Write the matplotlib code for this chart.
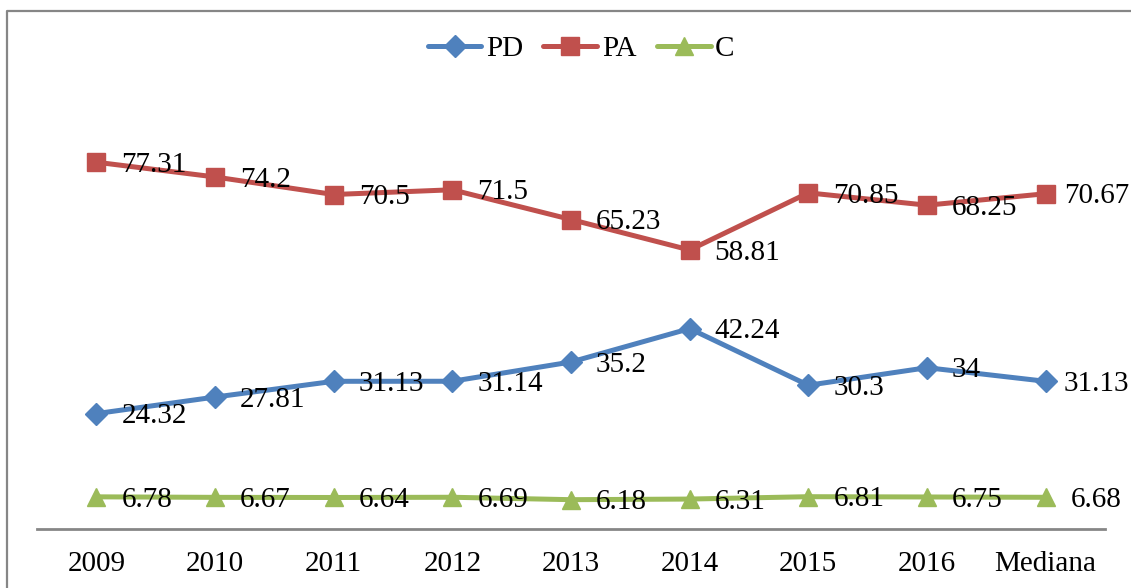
import matplotlib
matplotlib.use("Agg")
import matplotlib.pyplot as plt
from matplotlib.lines import Line2D

# categories and series
categories = ['2009', '2010', '2011', '2012', '2013', '2014', '2015', '2016', 'Mediana']
pd_vals = [24.32, 27.81, 31.13, 31.14, 35.2, 42.24, 30.3, 34, 31.13]
pa_vals = [77.31, 74.2, 70.5, 71.5, 65.23, 58.81, 70.85, 68.25, 70.67]
c_vals = [6.78, 6.67, 6.64, 6.69, 6.18, 6.31, 6.81, 6.75, 6.68]
pd_labels = ['24.32', '27.81', '31.13', '31.14', '35.2', '42.24', '30.3', '34', '31.13']
pa_labels = ['77.31', '74.2', '70.5', '71.5', '65.23', '58.81', '70.85', '68.25', '70.67']
c_labels = ['6.78', '6.67', '6.64', '6.69', '6.18', '6.31', '6.81', '6.75', '6.68']

plt.rcParams['font.family'] = ['Liberation Serif', 'DejaVu Serif']

W, H = 1131, 588
fig = plt.figure(figsize=(W / 100, H / 100), dpi=100)
ax = fig.add_axes([37 / W, 59 / H, 1068 / W, 427 / H])

x = list(range(len(categories)))
series = [
    (pd_vals, pd_labels, 'PD', '#4F81BD', 'D', 11),
    (pa_vals, pa_labels, 'PA', '#C0504D', 's', 13),
    (c_vals, c_labels, 'C', '#9BBB59', '^', 13),
]
for vals, labs, name, col, mk, ms in series:
    ax.plot(x, vals, color=col, lw=3.6, marker=mk, markersize=ms,
            markerfacecolor=col, markeredgecolor=col, label=name,
            solid_capstyle='round', clip_on=False)
    for xi, v, t in zip(x, vals, labs):
        # long labels on the last point get pulled in to stay inside the chart
        dx = 13 if (xi == len(x) - 1 and len(t) > 4) else 18
        ax.annotate(t, (xi, v), xytext=(dx, -7), textcoords='offset points',
                    ha='left', va='baseline', fontsize=21, color='black')

ax.set_xlim(-0.5, len(categories) - 0.5)
ax.set_ylim(0, 90)
ax.set_xticks(x)
ax.set_xticklabels(categories, fontsize=21)
ax.tick_params(axis='x', length=0, pad=16)
ax.set_yticks([])
for s in ['top', 'right', 'left']:
    ax.spines[s].set_visible(False)
ax.spines['bottom'].set_color('#868686')
ax.spines['bottom'].set_linewidth(2)

leg = fig.legend(loc='center', bbox_to_anchor=(581 / W, 1 - 49 / H), ncol=3,
                 frameon=False, fontsize=21, handlelength=1.85,
                 handletextpad=0.15, columnspacing=0.7)

# outer chart border (only top and left visible)
fig.add_artist(Line2D([6.5 / W, 6.5 / W, 1.0], [0.0, 1 - 10.5 / H, 1 - 10.5 / H],
                      transform=fig.transFigure, color='#868686', lw=1.6))

fig.savefig('out.png', dpi=100)
